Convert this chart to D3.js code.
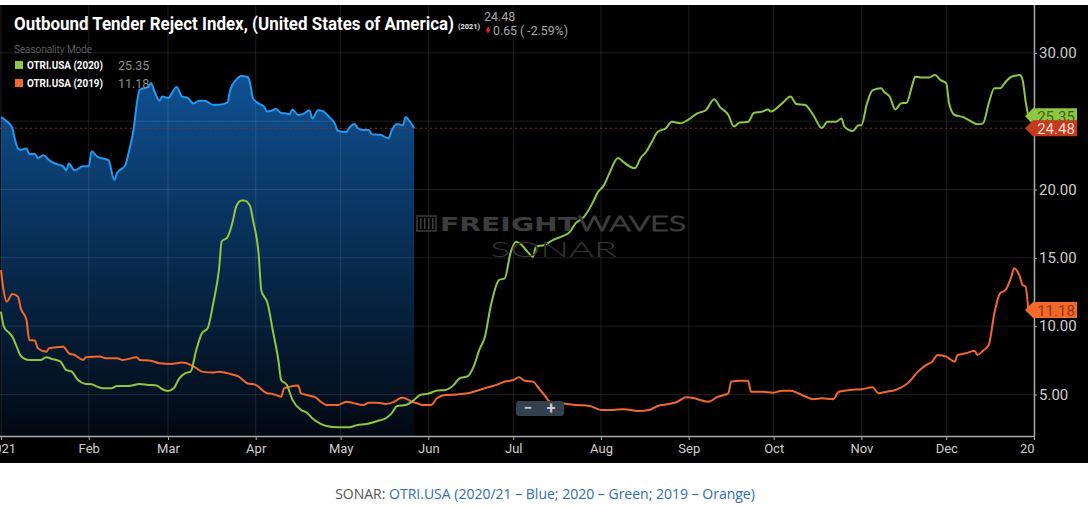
<!DOCTYPE html>
<html><head><meta charset="utf-8">
<script src="https://cdn.jsdelivr.net/npm/d3@7"></script>
<style>
html,body{margin:0;padding:0;background:#fff;}
svg{display:block;}
</style></head>
<body><svg id="c" width="1088" height="506"></svg>
<script>
// ---------- DATA (day of year, value) ----------
const monthLabels = ["2021","Feb","Mar","Apr","May","Jun","Jul","Aug","Sep","Oct","Nov","Dec","2020"];
const yTicks = [5,10,15,20,25,30];
const series2021 = [[0,25.3],[2,25.0],[4,24.5],[5,23.6],[6,23.0],[7,22.9],[9,23.0],[10,22.6],[12,22.6],[13,22.3],[15,22.5],[17,22.15],[19,21.9],[22,21.7],[23,21.4],[24,21.9],[26,21.4],[29,21.7],[31,21.7],[32,22.8],[34,22.4],[38,22.15],[40,20.7],[41,21.2],[44,21.8],[45,22.6],[47,24.6],[48,26.3],[49,27.3],[52,27.5],[53,27.8],[54,27.3],[56,26.5],[57,26.8],[59,26.7],[62,27.5],[64,26.8],[66,26.7],[68,26.3],[70,26.5],[72,26.5],[75,26.2],[77,26.2],[80,26.35],[81,27.3],[83,28.0],[85,28.3],[87,28.25],[88,27.8],[89,26.7],[91,26.3],[93,26.05],[94,25.7],[96,25.8],[97,25.9],[99,25.6],[101,25.55],[102,25.5],[103,25.85],[105,25.45],[107,25.55],[109,25.8],[110,25.2],[112,25.8],[114,25.7],[116,25.3],[118,24.8],[119,24.3],[122,24.2],[123,24.5],[125,24.8],[126,24.5],[128,24.35],[130,24.35],[131,24.05],[134,24.0],[137,23.75],[138,24.3],[140,24.8],[142,24.7],[143,25.3],[144,25.1],[146,24.48]];
const series2020 = [[0,11.06],[1,9.96],[3,9.48],[4,9.23],[6,8.26],[7,7.82],[10,7.52],[14,7.52],[16,7.72],[18,7.6],[21,7.4],[23,6.8],[25,6.67],[27,6.1],[30,5.77],[32,5.75],[34,5.57],[36,5.45],[39,5.45],[41,5.62],[45,5.62],[49,5.77],[52,5.7],[55,5.65],[57,5.38],[59,5.26],[61,5.45],[63,6.18],[65,6.55],[67,6.67],[69,8.26],[71,9.48],[73,9.84],[75,11.67],[77,14.1],[78,16.2],[80,16.5],[82,17.76],[83,18.7],[85,19.2],[86,19.2],[88,18.8],[89,17.8],[91,15.35],[92,12.6],[93,12.15],[94,11.8],[96,9.72],[98,7.52],[99,6.06],[101,5.7],[103,4.6],[106,3.87],[108,3.67],[110,3.26],[113,2.84],[115,2.69],[119,2.6],[123,2.6],[126,2.77],[129,2.84],[133,3.06],[136,3.26],[138,3.62],[140,4.16],[143,4.23],[146,4.6],[148,4.96],[151,5.06],[154,5.28],[157,5.33],[160,5.7],[162,6.18],[165,6.35],[167,7.03],[169,8.26],[171,9.23],[173,11.42],[176,13.38],[178,13.5],[180,15.33],[182,16.18],[184,15.94],[186,15.45],[188,15.08],[189,15.8],[192,15.94],[195,16.3],[198,16.55],[201,16.9],[203,17.52],[206,18.0],[209,19.0],[211,19.84],[213,20.3],[215,21.2],[218,22.3],[220,22.0],[222,21.7],[224,21.55],[226,22.3],[228,22.76],[230,23.5],[232,24.2],[235,24.5],[237,24.95],[240,24.84],[243,25.13],[246,25.57],[249,25.8],[252,26.6],[254,26.05],[257,25.45],[259,24.6],[261,24.9],[264,24.95],[266,25.6],[269,25.7],[271,25.86],[272,25.7],[276,26.3],[279,26.8],[281,26.25],[284,26.2],[287,25.45],[290,24.5],[292,24.95],[295,24.95],[297,25.2],[298,24.6],[301,24.28],[303,24.7],[304,24.7],[306,26.3],[308,27.27],[311,27.4],[312,27.15],[314,26.8],[316,25.86],[318,26.3],[320,26.35],[322,27.64],[323,28.25],[325,28.2],[328,28.2],[330,28.37],[332,28.0],[334,27.77],[335,26.3],[337,25.45],[340,25.3],[342,25.08],[343,24.95],[345,24.77],[347,24.84],[349,26.3],[351,27.4],[353,27.4],[355,27.88],[357,28.25],[360,28.37],[361,28.0],[362,26.5],[363,25.35]];
const series2019 = [[0,14.1],[1,12.52],[2,11.79],[4,12.35],[6,12.15],[7,11.3],[9,10.45],[10,8.99],[12,8.94],[13,8.38],[16,8.13],[17,8.38],[22,8.5],[24,8.01],[26,7.89],[29,7.52],[30,7.72],[35,7.77],[37,7.65],[41,7.65],[43,7.52],[48,7.72],[49,7.52],[53,7.47],[56,7.28],[60,7.23],[64,7.33],[67,7.16],[69,6.92],[71,6.67],[75,6.6],[77,6.67],[81,6.5],[84,6.3],[87,5.82],[90,5.7],[94,5.09],[96,5.04],[99,4.84],[100,5.45],[102,5.57],[105,5.65],[106,5.09],[108,4.96],[111,4.8],[113,4.47],[115,4.23],[119,4.23],[122,4.47],[124,4.4],[128,4.23],[130,4.4],[133,4.4],[136,4.3],[139,4.47],[141,4.72],[142,4.75],[144,4.6],[145,4.47],[147,4.36],[149,4.23],[152,4.23],[154,4.72],[157,4.96],[161,5.0],[165,5.09],[169,5.33],[172,5.52],[175,5.7],[178,5.94],[181,6.06],[183,6.26],[185,6.01],[188,5.94],[190,5.45],[192,4.96],[194,4.47],[198,4.36],[203,4.23],[208,4.16],[212,3.87],[216,3.87],[220,3.92],[225,3.79],[229,3.87],[232,4.16],[236,4.3],[239,4.47],[242,4.8],[245,4.72],[247,4.6],[250,4.47],[253,4.8],[256,5.0],[257,5.09],[258,5.94],[261,6.0],[264,6.0],[265,5.2],[269,5.2],[273,5.13],[276,5.28],[279,5.28],[283,4.96],[287,4.65],[290,4.72],[294,4.65],[296,5.2],[300,5.33],[304,5.38],[308,5.52],[310,5.09],[313,5.2],[316,5.33],[319,5.62],[321,5.94],[324,6.67],[327,7.16],[329,7.4],[331,7.89],[334,7.77],[337,7.4],[338,7.89],[341,8.01],[344,8.2],[345,7.89],[347,8.2],[349,8.62],[351,10.94],[353,12.4],[355,12.65],[357,13.62],[358,14.23],[360,13.62],[361,13.0],[362,12.9],[363,11.18]];
const current2021 = 24.48, last2020 = 25.35, last2019 = 11.18;
const changeText = "0.65 ( -2.59%)";

// ---------- SETUP ----------
const svg = d3.select("#c");
const base = new Date(2021,0,1);
const dayDate = d => d3.timeDay.offset(base, d);
const L = 1, R = 1034, T = 5, B = 436;
const x = d3.scaleTime().domain([base, new Date(2022,0,1)]).range([L, R]);
const y = d3.scaleLinear().domain([1.96, 33.5]).range([B, T]);

const defs = svg.append("defs");
const grad = defs.append("linearGradient").attr("id","blueFill")
  .attr("gradientUnits","userSpaceOnUse").attr("x1",0).attr("x2",0).attr("y1",75).attr("y2",B);
grad.append("stop").attr("offset","0%").attr("stop-color","#0f5193");
grad.append("stop").attr("offset","55%").attr("stop-color","#07284a");
grad.append("stop").attr("offset","100%").attr("stop-color","#020812");
defs.append("clipPath").attr("id","plotClip").append("rect")
  .attr("x",0).attr("y",T).attr("width",R).attr("height",B-T);
defs.append("clipPath").attr("id","xlabClip").append("rect")
  .attr("x",0).attr("y",-2).attr("width",R+1).attr("height",40);

// background
svg.append("rect").attr("x",0).attr("y",5).attr("width",1088).attr("height",458).attr("fill","#000");

const plot = svg.append("g").attr("clip-path","url(#plotClip)");

// blue area
const area = d3.area().x(d=>x(dayDate(d[0]))).y0(B).y1(d=>y(d[1])).curve(d3.curveMonotoneX);
plot.append("path").datum(series2021).attr("d",area).attr("fill","url(#blueFill)");

// grid
const months = d3.timeMonth.range(base, new Date(2022,0,2));
plot.append("g").selectAll("line").data(months).join("line")
  .attr("x1",d=>x(d)).attr("x2",d=>x(d)).attr("y1",T).attr("y2",B)
  .attr("stroke","#fff").attr("stroke-opacity",0.11).attr("stroke-width",1);
plot.append("g").selectAll("line").data(yTicks).join("line")
  .attr("x1",0).attr("x2",R).attr("y1",d=>y(d)).attr("y2",d=>y(d))
  .attr("stroke","#fff").attr("stroke-opacity",0.11).attr("stroke-width",1);

// current value dashed line
plot.append("line").attr("x1",0).attr("x2",R).attr("y1",y(current2021)).attr("y2",y(current2021))
  .attr("stroke","#8a2c1a").attr("stroke-width",1.2).attr("stroke-dasharray","2,3");

// watermark
const wm = svg.append("g").attr("fill","#3d3d3d");
[3,7,11,15].forEach(o=>{
  wm.append("rect").attr("x",417+o).attr("y",218).attr("width",1.6).attr("height",11);
});
wm.append("rect").attr("x",417).attr("y",216).attr("width",19).attr("height",15).attr("fill","none").attr("stroke","#3d3d3d").attr("stroke-width",1.5);
wm.append("text").attr("x",440).attr("y",231).attr("font-family","DejaVu Sans, sans-serif").attr("font-weight",700)
  .attr("font-size",20).attr("textLength",137).attr("lengthAdjust","spacingAndGlyphs").text("FREIGHT");
wm.append("text").attr("x",578).attr("y",231).attr("font-family","Lato, sans-serif").attr("font-weight",300)
  .attr("font-size",21).attr("textLength",108).attr("lengthAdjust","spacingAndGlyphs")
  .attr("fill","none").attr("stroke","#3d3d3d").attr("stroke-width",1).text("WAVES");
wm.append("text").attr("x",490).attr("y",257).attr("font-family","Lato, sans-serif").attr("font-weight",300)
  .attr("font-size",21).attr("textLength",127).attr("lengthAdjust","spacingAndGlyphs")
  .attr("fill","#353535").text("SONAR");

// lines
const line = d3.line().x(d=>x(dayDate(d[0]))).y(d=>y(d[1])).curve(d3.curveMonotoneX);
plot.append("path").datum(series2019).attr("d",line).attr("fill","none").attr("stroke","#f2692c").attr("stroke-width",2);
plot.append("path").datum(series2020).attr("d",line).attr("fill","none").attr("stroke","#8fc740").attr("stroke-width",2);
plot.append("path").datum(series2021).attr("d",line).attr("fill","none").attr("stroke","#2399f0").attr("stroke-width",2);

// zoom control
const zc = svg.append("g");
zc.append("rect").attr("x",516).attr("y",401).attr("width",48).attr("height",15).attr("rx",3).attr("fill","#33414d");
zc.append("text").attr("x",528).attr("y",413).attr("text-anchor","middle").attr("font-family","Roboto, sans-serif")
  .attr("font-size",15).attr("font-weight",700).attr("fill","#c5ced6").text("−");
zc.append("text").attr("x",551).attr("y",413.5).attr("text-anchor","middle").attr("font-family","Roboto, sans-serif")
  .attr("font-size",16).attr("font-weight",700).attr("fill","#c5ced6").text("+");

// x axis
const xAxis = d3.axisBottom(x).tickValues(months).tickFormat((d,i)=>monthLabels[i]).tickSize(4).tickPadding(4);
const gx = svg.append("g").attr("transform",`translate(0,${B})`).attr("clip-path","url(#xlabClip)").call(xAxis);
gx.select(".domain").attr("d",`M0,0.5H${R}`).attr("stroke","#a8a8a8").attr("stroke-width",1.5);
gx.selectAll(".tick line").attr("stroke","#a8a8a8");
gx.selectAll(".tick text").attr("fill","#cfcfcf").attr("font-family","Roboto, sans-serif").attr("font-size",13);

// y axis
const yAxis = d3.axisRight(y).tickValues(yTicks).tickFormat(d3.format(".2f")).tickSize(3).tickPadding(2);
const gy = svg.append("g").attr("transform",`translate(${R},0)`).call(yAxis);
gy.select(".domain").attr("d",`M0.5,${T}V${B}`).attr("stroke","#a8a8a8").attr("stroke-width",1.5);
gy.selectAll(".tick line").attr("stroke","#a8a8a8");
gy.selectAll(".tick text").attr("fill","#cfcfcf").attr("font-family","Roboto, sans-serif").attr("font-size",15);

// badges
function badge(v, fill, tc){
  const cy = y(v);
  const g = svg.append("g");
  g.append("path").attr("d",`M1025,${cy} L1033,${cy-8} L1077,${cy-8} L1077,${cy+8} L1033,${cy+8} Z`).attr("fill",fill);
  g.append("text").attr("x",1056).attr("y",cy+5.5).attr("text-anchor","middle").attr("font-family","Roboto, sans-serif")
    .attr("font-size",15).attr("fill",tc).text(d3.format(".2f")(v));
}
badge(last2020, "#8fc740", "#3f5f22");
badge(current2021, "#c63a1c", "#f6ddd5");
badge(last2019, "#f2692c", "#9a3410");

// title & header
const hd = svg.append("g").attr("font-family","Roboto, sans-serif");
hd.append("text").attr("x",14).attr("y",29.5).attr("font-size",19).attr("font-weight",700).attr("fill","#fff")
  .attr("textLength",440).attr("lengthAdjust","spacingAndGlyphs").text("Outbound Tender Reject Index, (United States of America)");
hd.append("text").attr("x",458).attr("y",29).attr("font-size",8).attr("font-weight",700).attr("fill","#e8e8e8")
  .attr("textLength",22).attr("lengthAdjust","spacingAndGlyphs").text("(2021)");
hd.append("text").attr("x",484).attr("y",20.5).attr("font-size",12.5).attr("fill","#a8a8a8").text(d3.format(".2f")(current2021));
hd.append("path").attr("d",d3.symbol(d3.symbolDiamond,14)()).attr("transform","translate(488,30)").attr("fill","#e8202c");
hd.append("text").attr("x",493).attr("y",34.5).attr("font-size",12.5).attr("fill","#a8a8a8")
  .attr("textLength",75).attr("lengthAdjust","spacingAndGlyphs").text(changeText);

// legend
hd.append("text").attr("x",14).attr("y",53).attr("font-size",10).attr("font-weight",300).attr("fill","#808080").text("Seasonality Mode");
const legendItems = [
  {label:"OTRI.USA (2020)", value:last2020, color:"#8fc740"},
  {label:"OTRI.USA (2019)", value:last2019, color:"#f2692c"}
];
legendItems.forEach((it,i)=>{
  const cy = 65 + i*18;
  hd.append("rect").attr("x",15).attr("y",cy-4).attr("width",8).attr("height",8).attr("fill",it.color);
  hd.append("text").attr("x",27).attr("y",cy+4).attr("font-size",11.5).attr("font-weight",700).attr("fill","#fff")
    .attr("textLength",76).attr("lengthAdjust","spacingAndGlyphs").text(it.label);
  hd.append("text").attr("x",118).attr("y",cy+4.5).attr("font-size",12.5).attr("fill","#8e8e8e").text(d3.format(".2f")(it.value));
});

// caption
const cap = svg.append("text").attr("x",545).attr("y",499).attr("text-anchor","middle")
  .attr("font-family","'Open Sans', sans-serif").attr("font-size",14);
cap.append("tspan").attr("fill","#555").text("SONAR: ");
cap.append("tspan").attr("fill","#2f6db0").text("OTRI.USA (2020/21 – Blue; 2020 – Green; 2019 – Orange)");
</script>
</body></html>
